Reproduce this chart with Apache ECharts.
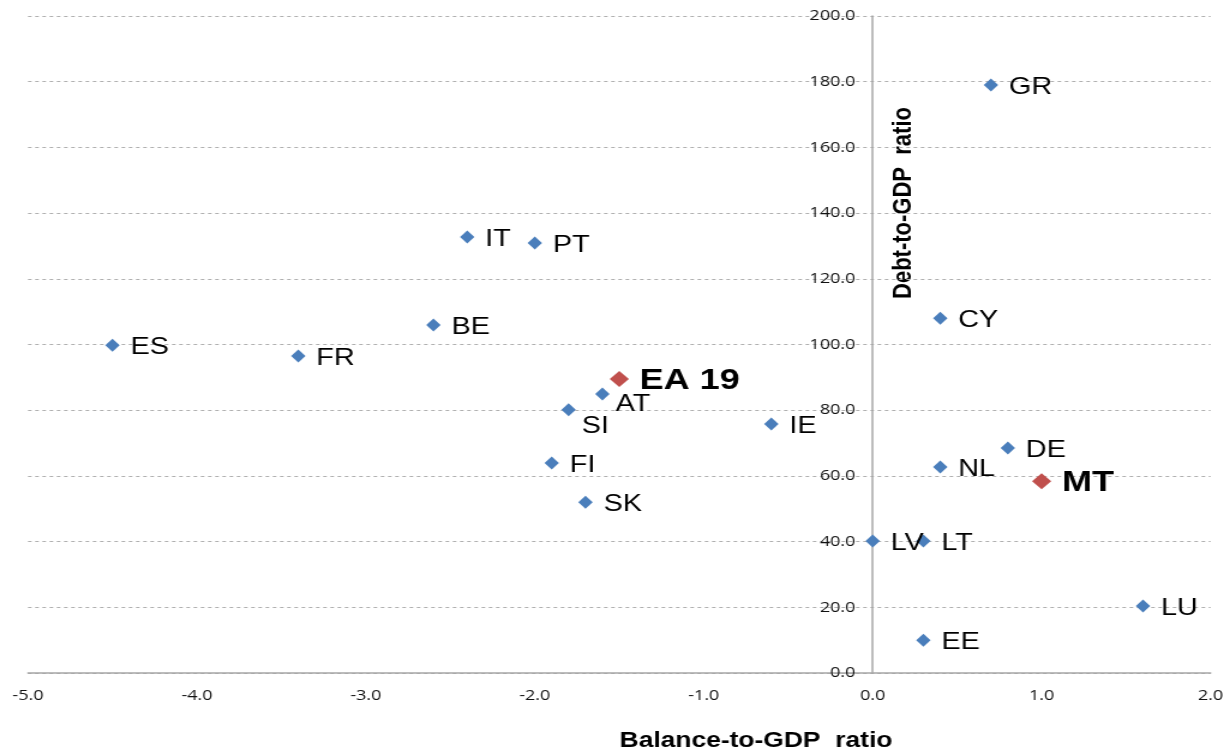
<!DOCTYPE html>
<html>
<head>
<meta charset="utf-8">
<script src="https://cdn.jsdelivr.net/npm/echarts@6/dist/echarts.min.js"></script>
<style>
  html, body { margin: 0; padding: 0; background: #fff; overflow: hidden; }
  /* the chart is laid out narrower and widened horizontally to fill the page */
  #chart { width: 1022.5px; height: 755px; transform: scaleX(1.2); transform-origin: 0 0; }
</style>
</head>
<body>
<div id="chart"></div>
<script>
// Euro-area countries: general government balance vs debt (% of GDP)
const countries = ['ES', 'FR', 'BE', 'IT', 'PT', 'AT', 'SI', 'FI', 'SK', 'IE',
                   'GR', 'CY', 'DE', 'NL', 'LV', 'LT', 'LU', 'EE'];
const balance   = [-4.5, -3.4, -2.6, -2.4, -2.0, -1.6, -1.8, -1.9, -1.7, -0.6,
                    0.7, 0.4, 0.8, 0.4, 0.0, 0.3, 1.6, 0.3];
const debt      = [99.8, 96.5, 105.9, 132.7, 130.9, 84.9, 80.1, 63.9, 52.0, 75.8,
                   179.0, 108.0, 68.5, 62.7, 40.2, 40.2, 20.4, 10.0];

// Highlighted entries: euro-area aggregate and Malta
const highlightNames   = ['EA 19', 'MT'];
const highlightBalance = [-1.5, 1.0];
const highlightDebt    = [89.5, 58.4];

// Label placement tweaks for crowded points
const labelShift = { AT: [-4, 10], SI: [-4, 17] };

const W = 1022.5;
const G = { left: 23.3, right: 14.2, top: 16, bottom: 82 };
const X_MIN = -5, X_MAX = 2;
// horizontal shift that puts the y axis on x = 0
const plotW = W - G.left - G.right;
const yAxisOffset = -plotW * (0 - X_MIN) / (X_MAX - X_MIN);

const chart = echarts.init(document.getElementById('chart'));

const countryData = countries.map((c, i) => {
  const item = { name: c, value: [balance[i], debt[i]] };
  if (labelShift[c]) item.label = { offset: labelShift[c] };
  return item;
});
const highlightData = highlightNames.map((c, i) => ({
  name: c, value: [highlightBalance[i], highlightDebt[i]]
}));

const fmt = v => v.toFixed(1);

chart.setOption({
  animation: false,
  grid: Object.assign({ outerBoundsMode: 'none', containLabel: false }, G),
  xAxis: {
    type: 'value', min: X_MIN, max: X_MAX, interval: 1,
    axisLine: { onZero: false, lineStyle: { color: '#a6a6a6', width: 1.5 } },
    axisTick: { show: false },
    splitLine: { show: false },
    axisLabel: { formatter: fmt, color: '#111', fontFamily: 'Open Sans', fontSize: 15, margin: 15 }
  },
  yAxis: {
    type: 'value', min: 0, max: 200, interval: 20,
    offset: yAxisOffset,
    axisLine: { show: true, onZero: false, lineStyle: { color: '#a6a6a6', width: 1.5 } },
    axisTick: { show: false },
    splitLine: { lineStyle: { color: '#b0b0b0', type: [3, 3], width: 1 } },
    axisLabel: { formatter: fmt, color: '#111', fontFamily: 'Open Sans', fontSize: 15, margin: 14 }
  },
  graphic: [
    {
      type: 'text', x: 753, y: 203, rotation: Math.PI / 2,
      style: { text: 'Debt-to-GDP  ratio', font: 'bold 22px "Liberation Sans", Arial',
               fill: '#000', align: 'center', verticalAlign: 'middle' }
    },
    {
      type: 'text', x: 630, y: 741,
      style: { text: 'Balance-to-GDP  ratio', font: 'bold 22px "Liberation Sans", Arial',
               fill: '#000', align: 'center', verticalAlign: 'middle' }
    }
  ],
  series: [
    {
      type: 'scatter',
      symbol: 'diamond', symbolSize: [12, 13],
      itemStyle: { color: '#4a7ebb', opacity: 1 },
      label: {
        show: true, position: 'right', distance: 9, offset: [0, 2],
        formatter: '{b}', color: '#000', opacity: 1,
        fontFamily: '"Liberation Sans", Arial', fontSize: 24
      },
      data: countryData
    },
    {
      type: 'scatter',
      symbol: 'diamond', symbolSize: [16, 16],
      itemStyle: { color: '#c0504d', opacity: 1 },
      label: {
        show: true, position: 'right', distance: 9, offset: [0, 2],
        formatter: '{b}', color: '#000', fontWeight: 'bold', opacity: 1,
        fontFamily: '"Liberation Sans", Arial', fontSize: 30
      },
      data: highlightData
    }
  ]
});
</script>
</body>
</html>
